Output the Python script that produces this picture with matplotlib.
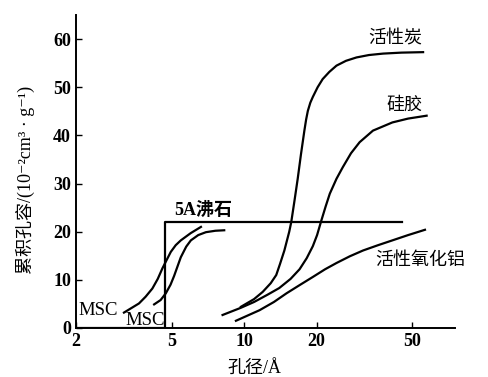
import matplotlib.pyplot as plt

plt.rcParams['font.family'] = ['Liberation Serif', 'Noto Sans CJK SC', 'DejaVu Serif']

# pore size (A) / cumulative pore volume (1e-2 cm3/g)
ac_x = [9.7, 11.0, 11.95, 12.9, 13.6, 14.1, 14.7, 15.4, 15.7, 16.2, 16.7, 17.22, 17.8, 18.1, 18.4, 18.84,
        19.3, 20.2, 21.2, 22.6, 24.2, 26.5, 29.3, 33.0, 37.8, 45.0, 55.4]
ac_y = [4.4, 6.0, 7.5, 9.3, 11.0, 13.3, 16.1, 20.0, 22.0, 26.5, 31.0, 36.0, 41.0, 43.3, 45.1, 46.8,
        48.0, 50.0, 51.7, 53.2, 54.5, 55.5, 56.2, 56.7, 57.0, 57.2, 57.3]

sg_x = [8.14, 9.7, 11.0, 12.5, 14.0, 15.6, 17.0, 18.2, 19.3, 20.1, 20.9, 21.8, 22.7, 24.2, 25.7,
        27.8, 30.2, 34.3, 41.3, 48.0, 57.3]
sg_y = [2.7, 4.2, 5.4, 6.9, 8.3, 10.2, 12.2, 14.5, 17.0, 19.3, 22.2, 25.2, 27.9, 31.0, 33.4,
        36.3, 38.6, 41.0, 42.7, 43.5, 44.1]

aa_x = [9.25, 11.6, 13.3, 15.0, 17.0, 19.3, 21.7, 24.2, 27.5, 31.2, 36.0, 41.3, 48.0, 56.4]
aa_y = [1.5, 3.7, 5.4, 7.2, 8.9, 10.6, 12.2, 13.5, 14.9, 16.1, 17.2, 18.2, 19.3, 20.4]

msc1_x = [3.17, 3.66, 3.9, 4.16, 4.38, 4.58, 4.96, 5.2, 5.46, 6.0, 6.62]
msc1_y = [3.2, 5.1, 6.5, 8.2, 10.2, 12.4, 15.8, 17.2, 18.2, 19.7, 21.0]

msc2_x = [4.23, 4.5, 4.73, 4.95, 5.12, 5.3, 5.46, 5.75, 6.01, 6.45, 6.94, 7.6, 8.27]
msc2_y = [4.9, 5.8, 7.2, 9.0, 10.8, 12.9, 14.7, 16.9, 18.2, 19.3, 19.9, 20.2, 20.3]

z5a_x = [2, 4.7, 4.7, 45.2]
z5a_y = [0, 0, 22.1, 22.1]

xticks = [2, 5, 10, 20, 50]
yticks = [0, 10, 20, 30, 40, 50, 60]

fig = plt.figure(figsize=(4.89, 3.77), dpi=100)
ax = fig.add_axes([0.155, 0.13, 0.775, 0.83])

lw = 1.6
for xs, ys in [(ac_x, ac_y), (sg_x, sg_y), (aa_x, aa_y), (msc1_x, msc1_y), (msc2_x, msc2_y), (z5a_x, z5a_y)]:
    ax.plot(xs, ys, color='black', lw=lw, solid_joinstyle='round')

ax.set_xscale('log')
ax.set_xlim(2, 75)
ax.set_ylim(0, 65)
ax.set_xticks(xticks)
ax.set_xticklabels([str(t) for t in xticks])
ax.minorticks_off()
ax.set_yticks(yticks)
ax.tick_params(direction='in', length=4, width=1, labelsize=13)
for lab in ax.get_xticklabels() + ax.get_yticklabels():
    lab.set_fontweight('bold')
ax.spines['top'].set_visible(False)
ax.spines['right'].set_visible(False)
ax.spines['left'].set_linewidth(1.4)
ax.spines['bottom'].set_linewidth(1.4)

ax.set_xlabel('孔径/Å', fontsize=13)
ax.xaxis.set_label_coords(0.472, -0.105)
ax.set_ylabel('累积孔容/(10⁻²cm³ · g⁻¹)', fontsize=13)
ax.yaxis.set_label_coords(-0.108, 0.473)

ax.text(54.8, 60.0, '活性炭', fontsize=13, ha='right', va='center')
ax.text(55.3, 46.2, '硅胶', fontsize=13, ha='right', va='center')
ax.text(82.8, 14.1, '活性氧化铝', fontsize=13, ha='right', va='center')
ax.text(5.12, 24.4, '5A沸石', fontsize=13, ha='left', va='center', fontweight='bold')
ax.text(2.06, 3.7, 'MSC', fontsize=13.5, ha='left', va='center')
ax.text(3.23, 1.6, 'MSC', fontsize=13.5, ha='left', va='center')

fig.savefig('out.png', dpi=100)
